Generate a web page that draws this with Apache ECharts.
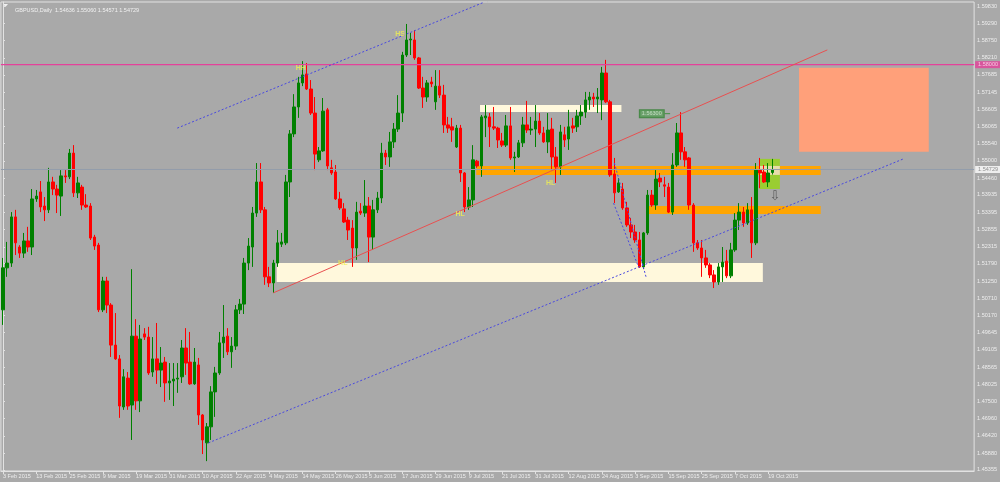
<!DOCTYPE html>
<html><head><meta charset="utf-8">
<script src="https://cdn.jsdelivr.net/npm/echarts@6/dist/echarts.min.js"></script>
<style>html,body{margin:0;padding:0;background:#a9a9a9}#c{width:1000px;height:482px}</style>
</head><body><div id="c"></div>
<script>
const open=[
1.5035,1.5166,1.5181,1.5325,1.5231,1.5212,1.5250,1.5231,1.5381,1.5403,
1.5359,1.5347,1.5434,1.5412,1.5390,1.5453,1.5450,1.5524,1.5400,1.5418,
1.5362,1.5359,1.5262,1.5237,1.5035,1.5125,1.5050,1.4925,1.4882,1.4732,
1.4822,1.4738,1.4953,1.4751,1.4960,1.4950,1.4841,1.4882,1.4847,1.4872,
1.4807,1.4813,1.4819,1.4826,1.4916,1.4872,1.4804,1.4863,1.4707,1.4620,
1.4670,1.4779,1.4838,1.4932,1.4953,1.4904,1.4922,1.5035,1.5053,1.5181,
1.5231,1.5337,1.5434,1.5347,1.5138,1.5119,1.5181,1.5240,1.5244,1.5434,
1.5584,1.5668,1.5743,1.5771,1.5724,1.5649,1.5503,1.5531,1.5659,1.5478,
1.5465,1.5381,1.5350,1.5315,1.5290,1.5228,1.5343,1.5337,1.5359,1.5262,
1.5347,1.5384,1.5524,1.5512,1.5559,1.5599,1.5649,1.5830,1.5877,1.5877,
1.5821,1.5727,1.5699,1.5746,1.5684,1.5733,1.5705,1.5612,1.5606,1.5543,
1.5602,1.5462,1.5356,1.5378,1.5499,1.5484,1.5634,1.5637,1.5606,1.5602,
1.5562,1.5549,1.5609,1.5509,1.5512,1.5556,1.5612,1.5596,1.5599,1.5624,
1.5587,1.5559,1.5599,1.5512,1.5481,1.5581,1.5568,1.5609,1.5606,1.5640,
1.5652,1.5690,1.5699,1.5693,1.5690,1.5774,1.5684,1.5459,1.5403,1.5412,
1.5353,1.5300,1.5278,1.5253,1.5169,1.5275,1.5393,1.5362,1.5446,1.5425,
1.5418,1.5340,1.5487,1.5587,1.5528,1.5509,1.5362,1.5244,1.5228,1.5197,
1.5175,1.5144,1.5122,1.5169,1.5187,1.5141,1.5222,1.5315,1.5340,1.5306,
1.5347,1.5244,1.5471,1.5465,1.5434,1.54636];
const high=[
1.5197,1.5247,1.5340,1.5347,1.5237,1.5275,1.5294,1.5412,1.5409,1.5437,
1.5387,1.5478,1.5450,1.5425,1.5471,1.5471,1.5537,1.5549,1.5450,1.5425,
1.5396,1.5368,1.5269,1.5244,1.5138,1.5138,1.5056,1.5025,1.4894,1.4850,
1.4841,1.5162,1.5006,1.4988,1.4978,1.4982,1.4950,1.4994,1.4919,1.4888,
1.4869,1.4869,1.4869,1.4941,1.4978,1.4966,1.4916,1.4885,1.4710,1.4682,
1.4797,1.4857,1.4966,1.5050,1.4978,1.4950,1.5050,1.5069,1.5197,1.5259,
1.5356,1.5493,1.5493,1.5356,1.5169,1.5191,1.5284,1.5275,1.5456,1.5596,
1.5708,1.5762,1.5811,1.5805,1.5752,1.5699,1.5543,1.5696,1.5665,1.5503,
1.5487,1.5403,1.5368,1.5325,1.5315,1.5372,1.5368,1.5440,1.5387,1.5378,
1.5403,1.5556,1.5534,1.5590,1.5618,1.5705,1.5840,1.5927,1.5899,1.5908,
1.5824,1.5762,1.5752,1.5762,1.5783,1.5783,1.5737,1.5637,1.5634,1.5612,
1.5612,1.5465,1.5418,1.5549,1.5503,1.5643,1.5674,1.5649,1.5668,1.5606,
1.5587,1.5643,1.5668,1.5528,1.5565,1.5637,1.5687,1.5637,1.5674,1.5649,
1.5606,1.5649,1.5634,1.5543,1.5612,1.5606,1.5659,1.5634,1.5659,1.5674,
1.5715,1.5715,1.5712,1.5727,1.5793,1.5815,1.5690,1.5509,1.5446,1.5431,
1.5372,1.5322,1.5300,1.5278,1.5278,1.5409,1.5409,1.5471,1.5462,1.5450,
1.5431,1.5524,1.5618,1.5652,1.5543,1.5512,1.5368,1.5253,1.5253,1.5222,
1.5181,1.5159,1.5181,1.5231,1.5222,1.5244,1.5337,1.5368,1.5356,1.5368,
1.5387,1.5493,1.5509,1.5487,1.5493,1.55060];
const low=[
1.4988,1.5138,1.5169,1.5206,1.5197,1.5197,1.5216,1.5206,1.5372,1.5340,
1.5312,1.5337,1.5393,1.5337,1.5328,1.5431,1.5443,1.5387,1.5384,1.5347,
1.5353,1.5253,1.5222,1.5028,1.5028,1.5025,1.4888,1.4879,1.4698,1.4723,
1.4723,1.4629,1.4723,1.4716,1.4941,1.4832,1.4826,1.4804,1.4794,1.4748,
1.4754,1.4735,1.4776,1.4807,1.4832,1.4801,1.4801,1.4676,1.4585,1.4563,
1.4629,1.4701,1.4832,1.4885,1.4894,1.4854,1.4910,1.5022,1.5022,1.5159,
1.5169,1.5325,1.5337,1.5113,1.5106,1.5088,1.5169,1.5231,1.5237,1.5387,
1.5574,1.5634,1.5733,1.5721,1.5643,1.5471,1.5496,1.5528,1.5471,1.5456,
1.5378,1.5347,1.5306,1.5253,1.5169,1.5191,1.5331,1.5325,1.5184,1.5222,
1.5337,1.5368,1.5487,1.5481,1.5540,1.5590,1.5621,1.5824,1.5830,1.5815,
1.5724,1.5665,1.5684,1.5730,1.5659,1.5696,1.5587,1.5587,1.5559,1.5540,
1.5434,1.5340,1.5347,1.5356,1.5478,1.5450,1.5574,1.5543,1.5596,1.5540,
1.5543,1.5543,1.5503,1.5465,1.5509,1.5543,1.5587,1.5581,1.5543,1.5581,
1.5556,1.5524,1.5471,1.5431,1.5456,1.5543,1.5534,1.5587,1.5590,1.5612,
1.5634,1.5659,1.5668,1.5649,1.5627,1.5680,1.5450,1.5368,1.5400,1.5347,
1.5294,1.5259,1.5244,1.5166,1.5162,1.5269,1.5356,1.5347,1.5418,1.5387,
1.5337,1.5331,1.5481,1.5503,1.5481,1.5347,1.5216,1.5222,1.5138,1.5166,
1.5134,1.5103,1.5113,1.5122,1.5134,1.5134,1.5216,1.5284,1.5294,1.5300,
1.5197,1.5237,1.5415,1.5431,1.5418,1.54571];
const close=[
1.5166,1.5181,1.5325,1.5244,1.5212,1.5250,1.5231,1.5381,1.5390,1.5356,
1.5347,1.5434,1.5412,1.5393,1.5453,1.5450,1.5524,1.5400,1.5431,1.5362,
1.5356,1.5259,1.5234,1.5035,1.5125,1.5050,1.4925,1.4882,1.4735,1.4826,
1.4735,1.4953,1.4751,1.4944,1.4950,1.4838,1.4882,1.4847,1.4869,1.4807,
1.4813,1.4819,1.4822,1.4916,1.4869,1.4804,1.4872,1.4707,1.4629,1.4670,
1.4779,1.4838,1.4932,1.4950,1.4904,1.4922,1.5035,1.5053,1.5181,1.5234,
1.5337,1.5434,1.5347,1.5138,1.5119,1.5181,1.5244,1.5247,1.5434,1.5584,
1.5668,1.5743,1.5768,1.5724,1.5649,1.5521,1.5531,1.5655,1.5484,1.5462,
1.5381,1.5353,1.5309,1.5284,1.5228,1.5340,1.5337,1.5359,1.5262,1.5347,
1.5384,1.5524,1.5512,1.5559,1.5599,1.5649,1.5830,1.5877,1.5880,1.5821,
1.5727,1.5699,1.5743,1.5740,1.5733,1.5705,1.5612,1.5602,1.5596,1.5602,
1.5462,1.5356,1.5378,1.5503,1.5484,1.5637,1.5640,1.5606,1.5602,1.5565,
1.5549,1.5609,1.5509,1.5512,1.5556,1.5612,1.5596,1.5599,1.5624,1.5587,
1.5559,1.5596,1.5512,1.5481,1.5590,1.5565,1.5606,1.5602,1.5640,1.5652,
1.5690,1.5699,1.5693,1.5699,1.5774,1.5684,1.5456,1.5400,1.5431,1.5353,
1.5300,1.5278,1.5253,1.5169,1.5275,1.5393,1.5362,1.5443,1.5434,1.5421,
1.5340,1.5487,1.5587,1.5528,1.5503,1.5362,1.5244,1.5228,1.5197,1.5175,
1.5144,1.5122,1.5169,1.5184,1.5141,1.5222,1.5315,1.5340,1.5306,1.5347,
1.5244,1.5471,1.5462,1.5434,1.5462,1.54729];

const tickLabels=["3 Feb 2015","13 Feb 2015","25 Feb 2015","9 Mar 2015","19 Mar 2015","31 Mar 2015","10 Apr 2015","22 Apr 2015","4 May 2015","14 May 2015","26 May 2015","5 Jun 2015","17 Jun 2015","29 Jun 2015","9 Jul 2015","21 Jul 2015","31 Jul 2015","12 Aug 2015","24 Aug 2015","3 Sep 2015","15 Sep 2015","25 Sep 2015","7 Oct 2015","19 Oct 2015"];
const priceTicks=[1.59830,1.59290,1.58750,1.58210,1.57685,1.57145,1.56605,1.56065,1.55540,1.55000,1.54460,1.53935,1.53395,1.52855,1.52315,1.51790,1.51250,1.50710,1.50170,1.49645,1.49105,1.48565,1.48025,1.47500,1.46960,1.46420,1.45880,1.45355];
const levelLine=1.58000;
const bidPrice=1.54729;
// zones: [startBar, endBar, topPrice, bottomPrice, kind]
const zones=[
 [65.8,182.7,1.5181,1.5122,'cream'],
 [114.7,148.7,1.5674,1.5652,'cream'],
 [113.8,196.6,1.5484,1.5456,'orange'],
 [155.2,196.6,1.5359,1.5334,'orange'],
 [191.4,222.6,1.5790,1.5528,'salmon'],
 [181.8,186.8,1.5506,1.5412,'green'],
 [181.8,186.8,1.5484,1.5456,'mix']
];
// trend lines: [bar1, price1, bar2, price2, kind]
const trendLines=[
 [41.9,1.5602,115.7,1.5995,'blue'],
 [49.4,1.4620,216.5,1.5506,'blue'],
 [147.0,1.5493,154.7,1.5134,'blue'],
 [146.8,1.5368,152.8,1.5169,'blue'],
 [65.0,1.5088,198.2,1.5846,'red']
];
const swingLabels=[[71.6,1.5790,'HH'],[95.5,1.5896,'HS'],[81.7,1.5181,'HL'],[109.9,1.5333,'HL'],[131.7,1.5431,'HL']];
const priceTag=[156.0,1.5647,'1.56300'];
const arrowMark=[185.6,1.5387,'\u21E9'];

const TOTAL=234;
const M=['Jan','Feb','Mar','Apr','May','Jun','Jul','Aug','Sep','Oct','Nov','Dec'];
const categories=[];
{let d=new Date(Date.UTC(2015,1,3));
 while(categories.length<open.length){const w=d.getUTCDay();
  if(w!==0&&w!==6)categories.push(d.getUTCDate()+' '+M[d.getUTCMonth()]+' '+d.getUTCFullYear());
  d=new Date(d.getTime()+86400000);}
 for(let i=categories.length;i<TOTAL;i++)categories.push('_'+i);}

const zoneColors={cream:'#fff8dc',orange:'#ffa500',salmon:'#ffa07a',green:'#9acd32',mix:'#e8dcaa'};
const lineStyles={blue:{color:'#4848e0',width:1,type:[2,2]},red:{color:'#e85050',width:1,type:'solid'}};
const FONT='Liberation Sans';
const showTick=(i)=>i%8===0&&i/8<tickLabels.length;

const series=[];
series.push({type:'line',xAxisIndex:1,data:[],z:1,silent:true,
 markArea:{silent:true,data:zones.map(z=>[{coord:[z[0],z[2]],itemStyle:{color:zoneColors[z[4]],opacity:1}},{coord:[z[1],z[3]]}])}});
series.push({type:'candlestick',xAxisIndex:0,z:3,barWidth:3,
 data:open.map((o,i)=>[o,close[i],low[i],high[i]]),
 itemStyle:{color:'#008000',color0:'#ff0000',borderColor:'#008000',borderColor0:'#ff0000',borderColorDoji:'#008000',borderWidth:1}});
series.push({type:'line',xAxisIndex:1,z:4,symbol:'none',silent:true,data:[[-0.5,levelLine],[TOTAL-0.5,levelLine]],lineStyle:{color:'#e4419a',width:1.3}});
series.push({type:'line',xAxisIndex:1,z:4,symbol:'none',silent:true,data:[[-0.5,bidPrice],[TOTAL-0.5,bidPrice]],lineStyle:{color:'#939dab',width:1}});
trendLines.forEach(t=>series.push({type:'line',xAxisIndex:1,z:5,symbol:'none',silent:true,data:[[t[0],t[1]],[t[2],t[3]]],lineStyle:lineStyles[t[4]]}));
series.push({type:'line',xAxisIndex:1,z:5,symbol:'none',silent:true,data:[[priceTag[0]+3.1,priceTag[1]],[priceTag[0]+4.4,priceTag[1]]],lineStyle:{color:'#3f8f3f',width:1}});
series.push({type:'scatter',xAxisIndex:1,z:6,symbolSize:0,silent:true,
 data:swingLabels.map(s=>({value:[s[0],s[1]],name:s[2]})),
 label:{show:true,position:'inside',formatter:p=>p.name,color:'#f0f050',fontSize:7,fontWeight:'bold',fontFamily:FONT}});
series.push({type:'scatter',xAxisIndex:1,z:6,symbolSize:0,silent:true,
 data:[{value:[priceTag[0],priceTag[1]],name:priceTag[2]}],
 label:{show:true,position:'inside',formatter:p=>p.name,color:'#d6eed6',fontSize:5.5,fontFamily:FONT,backgroundColor:'#5f9f5f',borderColor:'#2f7f2f',borderWidth:1,padding:[1,2,0,2]}});
series.push({type:'scatter',xAxisIndex:1,z:6,symbolSize:0,silent:true,
 data:[{value:[arrowMark[0],arrowMark[1]],name:arrowMark[2]}],
 label:{show:true,position:'inside',formatter:p=>p.name,color:'#4a4a4a',fontSize:13,fontFamily:'DejaVu Sans'}});
series.push({type:'scatter',xAxisIndex:1,z:7,symbolSize:0,silent:true,clip:false,
 data:[{value:[TOTAL-0.5,levelLine],name:levelLine.toFixed(5),label:{backgroundColor:'#e4419a',color:'#ffe6f2'}},
       {value:[TOTAL-0.5,bidPrice],name:bidPrice.toFixed(5),label:{backgroundColor:'#ffffff',color:'#777777'}}],
 label:{show:true,position:'right',distance:1,formatter:p=>p.name,fontSize:5.5,fontFamily:FONT,padding:[1,3,0,3]}});

const chart=echarts.init(document.getElementById('c'),null,{renderer:'canvas'});
chart.setOption({
 animation:false,backgroundColor:'#a9a9a9',
 title:{text:'GBPUSD,Daily  '+[open[open.length-1],high[high.length-1],low[low.length-1],close[close.length-1]].map(v=>v.toFixed(5)).join(' '),
   left:10,top:2,textStyle:{color:'#f2f2f2',fontSize:5.5,fontWeight:'normal',fontFamily:FONT}},
 graphic:[{type:'polygon',shape:{points:[[3,4],[8,4],[5.5,7]]},style:{fill:'#f0f0f0'}}],
 grid:{left:0,right:23,top:2,bottom:11,show:true,borderColor:'#e2e2e2',borderWidth:1},
 xAxis:[
  {type:'category',data:categories,boundaryGap:true,
   axisLine:{show:true,lineStyle:{color:'#e2e2e2'}},
   axisTick:{show:true,interval:showTick,alignWithLabel:true,length:3,lineStyle:{color:'#e2e2e2'}},
   axisLabel:{show:true,interval:showTick,formatter:(v,i)=>tickLabels[i/8]||'',align:'left',margin:2,
     color:'#eeeeee',fontSize:5.5,fontFamily:FONT},
   splitLine:{show:false}},
  {type:'value',min:-0.5,max:TOTAL-0.5,show:false}],
 yAxis:{type:'value',position:'right',min:1.45322,max:1.59955,scale:true,
   axisLine:{show:true,lineStyle:{color:'#e2e2e2'}},
   axisTick:{show:true,length:2,customValues:priceTicks,lineStyle:{color:'#e2e2e2'}},
   axisLabel:{show:true,customValues:priceTicks,formatter:v=>v.toFixed(5),margin:3,color:'#eeeeee',fontSize:5.5,fontFamily:FONT},
   splitLine:{show:false}},
 series:series
});
</script></body></html>
